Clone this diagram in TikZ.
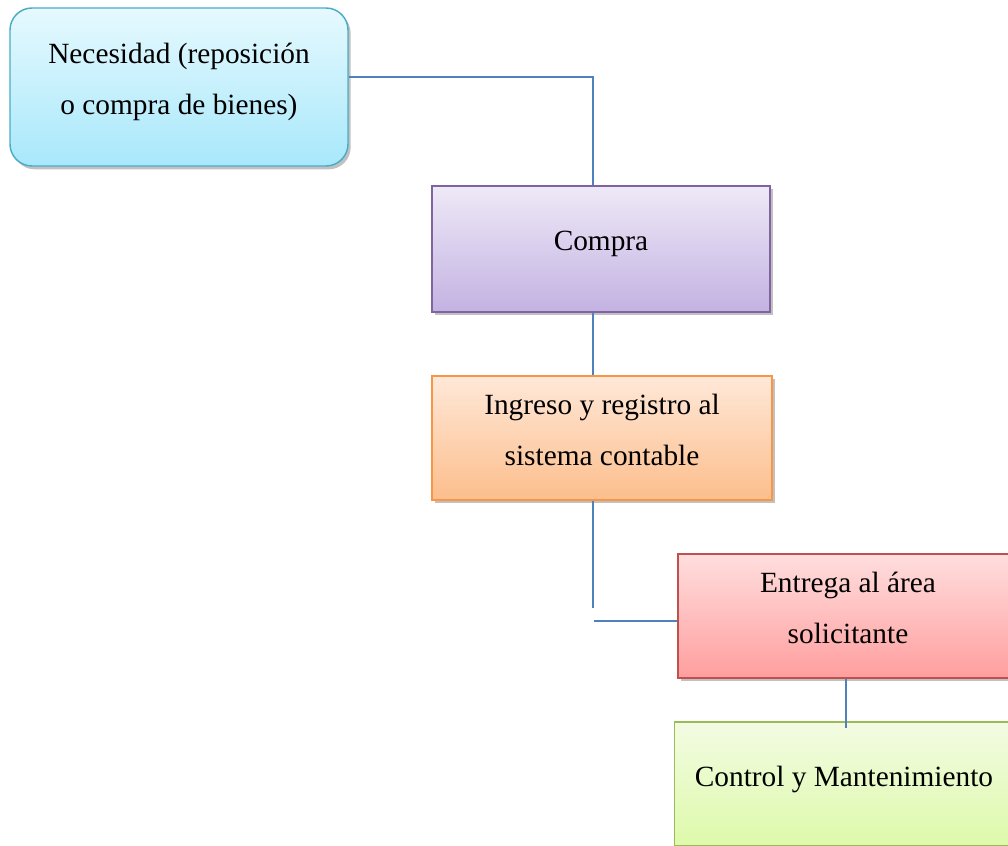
\documentclass[tikz,border=0pt]{standalone}
\usepackage{fontspec}
\setmainfont{Liberation Serif}
\usetikzlibrary{shadows}
\definecolor{cyanline}{HTML}{4BACC6}
\definecolor{cyantop}{HTML}{E6F9FE}
\definecolor{cyanbot}{HTML}{A8E8FB}
\definecolor{purpline}{HTML}{8064A2}
\definecolor{purptop}{HTML}{EEE9F7}
\definecolor{purpbot}{HTML}{C3B2E2}
\definecolor{orline}{HTML}{F79646}
\definecolor{ortop}{HTML}{FFE8D8}
\definecolor{orbot}{HTML}{FCBE8C}
\definecolor{redline}{HTML}{C0504D}
\definecolor{redtop}{HTML}{FFDEDE}
\definecolor{redbot}{HTML}{FF9E9E}
\definecolor{grline}{HTML}{9BBB59}
\definecolor{grtop}{HTML}{F3FBE3}
\definecolor{grbot}{HTML}{DDFAAA}
\definecolor{linkblue}{HTML}{4F81BD}
\newcommand{\lowpad}{\rule[-12pt]{0pt}{12pt}}
\tikzset{
  box/.style={rectangle, draw, line width=1.1pt, inner sep=0pt, align=center,
    font=\fontsize{22}{38.25}\selectfont,
    drop shadow={shadow xshift=2pt, shadow yshift=-2.5pt, opacity=0.35, fill=black!70}},
  cyanbox/.style={box, draw=cyanline, top color=cyantop, bottom color=cyanbot, rounded corners=16.5pt},
  purpbox/.style={box, draw=purpline, top color=purptop, bottom color=purpbot},
  orbox/.style={box, draw=orline, top color=ortop, bottom color=orbot},
  redbox/.style={box, draw=redline, top color=redtop, bottom color=redbot},
  grbox/.style={box, draw=grline, top color=grtop, bottom color=grbot},
  link/.style={draw=linkblue, line width=1.1pt},
}
\begin{document}
\begin{tikzpicture}[x=0.75pt,y=-0.75pt]
\useasboundingbox (0,0) rectangle (1008,846);
\clip (0,0) rectangle (1008,846);

\node[cyanbox, minimum width=253.5pt, minimum height=118.5pt] (nec) at (179,87)
  {Necesidad (reposición\\o compra de bienes)\lowpad};
\node[purpbox, minimum width=253.5pt, minimum height=94.5pt] (compra) at (601,249)
  {Compra\lowpad};
\node[orbox, minimum width=255pt, minimum height=93pt] (ingreso) at (602,438)
  {Ingreso y registro al\\sistema contable\lowpad};
\node[redbox, minimum width=255pt, minimum height=93pt] (entrega) at (848,616)
  {Entrega al área\\solicitante\lowpad};
\node[grbox, minimum width=254pt, minimum height=93pt] (control) at (844,784)
  {Control y Mantenimiento\lowpad};

\coordinate (c1) at (593,77);
\coordinate (g1) at (593,608);
\coordinate (g2) at (594,621);
\coordinate (e1) at (846,728);

\draw[link] (nec.east |- c1) -- (c1) -- (c1 |- compra.north);
\draw[link] (c1 |- compra.south) -- (c1 |- ingreso.north);
\draw[link] (c1 |- ingreso.south) -- (g1);
\draw[link] (g2) -- (g2 -| entrega.west);
\draw[link] (e1 |- entrega.south) -- (e1);
\end{tikzpicture}
\end{document}
